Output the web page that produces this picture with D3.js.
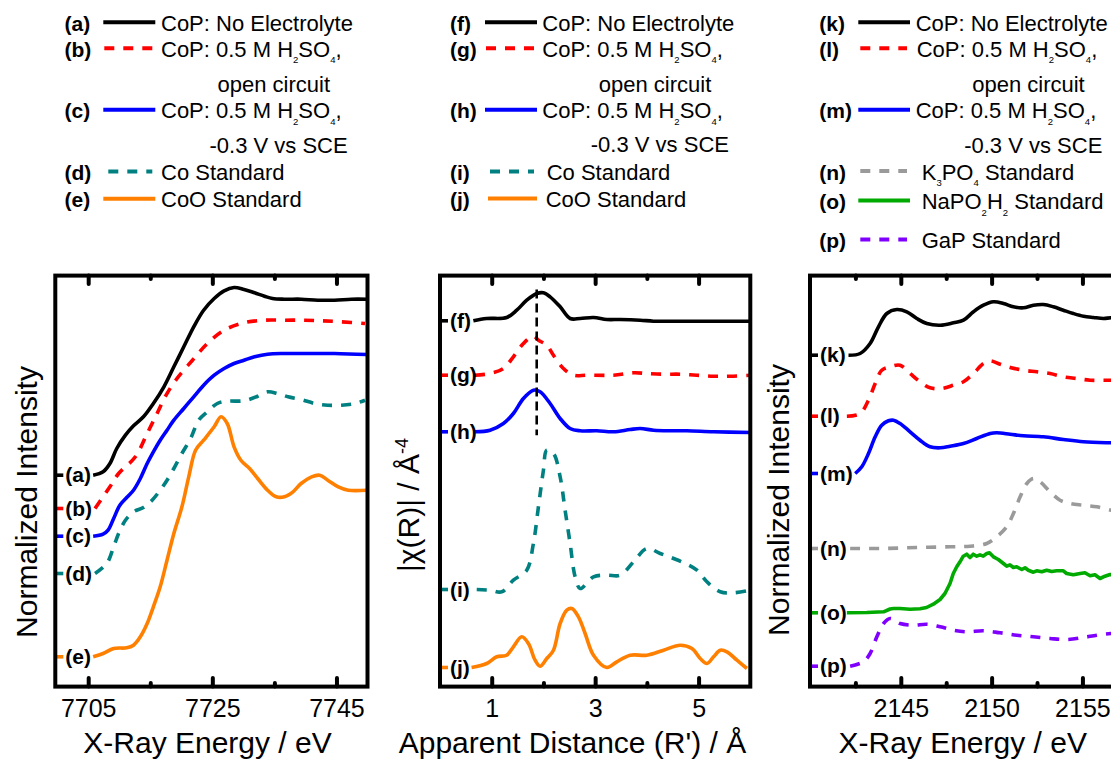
<!DOCTYPE html>
<html><head><meta charset="utf-8">
<script src="https://cdn.jsdelivr.net/npm/d3@7/dist/d3.min.js"></script>
<style>
html,body{margin:0;padding:0;background:#fff;}
svg{display:block;}
</style></head>
<body>
<svg id="chart" width="1111" height="761"></svg>
<script>
// ================= DATA =================
// Panel 1: Co K-edge XANES  [X-ray energy (eV), offset normalized intensity]
const coK_CoP_dry = [[7705.8,21.23],[7707.4,21.57],[7708.5,22.40],[7709.6,23.90],[7711.0,25.23],[7712.3,26.17],[7713.9,27.07],[7715.5,28.40],[7717.2,30.07],[7718.8,32.07],[7720.4,34.07],[7722.0,36.07],[7723.6,37.73],[7725.3,38.90],[7726.9,39.67],[7728.5,40.00],[7730.1,39.80],[7731.8,39.47],[7733.4,39.13],[7734.7,38.90],[7736.6,38.83],[7739.3,38.83],[7742.0,38.73],[7744.7,38.73],[7747.4,38.83],[7749.9,38.83]];
const coK_CoP_ocp = [[7706.1,17.90],[7708.5,20.07],[7709.9,21.40],[7712.6,23.07],[7714.5,25.40],[7716.1,27.40],[7717.4,29.07],[7719.1,30.73],[7721.8,32.73],[7724.2,34.40],[7726.9,35.73],[7730.1,36.47],[7733.4,36.73],[7736.6,36.73],[7739.9,36.73],[7742.6,36.67],[7745.8,36.57],[7749.6,36.40]];
const coK_CoP_neg03 = [[7705.8,15.13],[7707.4,15.33],[7708.2,15.73],[7709.1,16.90],[7710.1,18.23],[7711.2,19.00],[7712.3,19.73],[7713.4,20.90],[7714.5,22.40],[7715.5,23.57],[7716.6,24.73],[7717.7,25.73],[7718.8,26.73],[7720.4,27.90],[7722.0,29.07],[7723.6,30.23],[7725.3,31.23],[7726.9,31.90],[7728.5,32.40],[7730.1,32.73],[7731.8,33.07],[7733.9,33.33],[7736.6,33.40],[7739.3,33.40],[7744.7,33.40],[7749.9,33.30]];
const coK_Co = [[7706.1,11.40],[7708.0,12.40],[7709.1,14.07],[7709.9,15.40],[7711.0,16.73],[7712.3,17.57],[7713.9,18.00],[7715.3,18.73],[7716.6,19.73],[7717.7,20.73],[7718.8,21.90],[7720.1,23.40],[7721.5,24.90],[7722.8,26.73],[7724.2,27.57],[7725.8,28.40],[7727.4,28.63],[7730.1,28.67],[7732.3,29.13],[7733.9,29.57],[7735.5,29.40],[7737.2,29.07],[7739.3,28.80],[7741.5,28.40],[7743.6,28.23],[7745.8,28.23],[7748.0,28.40],[7749.6,28.73]];
const coK_CoO = [[7705.8,3.07],[7707.4,3.40],[7709.1,3.90],[7711.2,3.97],[7712.3,4.23],[7713.4,5.07],[7714.5,6.40],[7715.5,8.07],[7716.6,10.07],[7717.7,12.73],[7718.8,15.40],[7720.1,18.07],[7721.2,21.07],[7722.3,23.73],[7723.6,24.73],[7725.3,26.07],[7726.4,27.07],[7727.4,26.40],[7728.5,24.07],[7729.6,22.73],[7731.0,21.90],[7732.3,20.90],[7733.9,19.73],[7735.3,19.07],[7736.6,19.07],[7738.0,19.57],[7739.3,20.40],[7741.0,21.07],[7742.3,21.23],[7743.6,20.73],[7745.3,20.07],[7746.9,19.73],[7749.9,19.73]];

// Panel 2: Co EXAFS Fourier transform  [apparent distance R' (Å), offset |χ(R)|]
const exafs_CoP_dry = [[0.645,36.67],[0.903,36.90],[1.29,37.00],[1.484,37.73],[1.677,38.73],[1.871,39.40],[2.0,39.47],[2.129,39.07],[2.323,38.07],[2.516,36.90],[2.71,36.90],[2.968,37.00],[3.226,36.80],[3.484,36.80],[3.871,36.73],[4.129,36.63],[4.645,36.63],[5.29,36.63],[6.0,36.63]];
const exafs_CoP_ocp = [[0.677,31.23],[0.968,31.40],[1.226,31.90],[1.419,33.07],[1.613,34.40],[1.806,35.13],[1.903,34.73],[2.065,34.23],[2.194,33.23],[2.387,31.90],[2.581,31.23],[2.839,31.23],[3.355,31.23],[3.742,31.47],[4.0,31.40],[4.323,31.33],[4.645,31.33],[4.968,31.23],[5.29,31.13],[5.613,31.13],[6.0,31.23]];
const exafs_CoP_neg03 = [[0.677,25.57],[0.968,25.73],[1.226,26.40],[1.419,27.40],[1.613,28.90],[1.806,29.73],[1.935,29.57],[2.129,28.40],[2.323,26.90],[2.516,25.90],[2.71,25.67],[3.032,25.67],[3.355,25.57],[3.677,25.80],[3.871,25.90],[4.129,25.73],[4.452,25.67],[4.774,25.67],[5.29,25.57],[6.0,25.50]];
const exafs_Co = [[0.71,9.80],[0.968,9.73],[1.194,9.57],[1.419,10.73],[1.677,11.73],[1.806,14.40],[1.903,18.07],[2.0,21.73],[2.065,23.73],[2.194,23.40],[2.323,21.07],[2.419,17.73],[2.516,14.40],[2.613,11.07],[2.71,9.90],[2.968,11.07],[3.226,11.23],[3.484,11.23],[3.742,12.57],[4.0,13.90],[4.258,13.40],[4.516,12.90],[4.774,12.33],[4.968,11.73],[5.161,10.57],[5.419,9.57],[5.677,9.47],[6.0,9.73]];
const exafs_CoO = [[0.61,2.00],[0.903,2.40],[1.097,3.07],[1.29,3.23],[1.419,4.07],[1.581,5.07],[1.71,4.40],[1.839,2.73],[1.935,2.13],[2.065,2.90],[2.194,3.73],[2.323,6.40],[2.452,7.73],[2.548,7.90],[2.677,7.07],[2.806,5.40],[2.968,3.23],[3.226,2.00],[3.419,2.57],[3.677,3.23],[4.0,3.23],[4.323,3.73],[4.645,4.23],[4.871,3.90],[5.032,2.90],[5.161,2.40],[5.29,3.07],[5.419,3.73],[5.548,3.57],[5.742,2.73],[5.935,1.90]];
const exafsMarkerR = 1.87;             // dashed reference line position
const exafsMarkerSpan = [25.23, 39.8]; // its vertical extent

// Panel 3: P K-edge XANES  [X-ray energy (eV), offset normalized intensity]
const pK_CoP_dry = [[2142.12,33.23],[2142.76,33.40],[2143.31,34.40],[2143.77,36.07],[2144.23,37.40],[2144.78,37.80],[2145.33,37.57],[2145.88,36.90],[2146.43,36.40],[2147.17,36.23],[2147.90,36.47],[2148.45,36.73],[2149.00,37.57],[2149.55,38.23],[2150.10,38.57],[2150.65,38.40],[2151.20,38.07],[2151.75,37.97],[2152.30,38.23],[2152.85,38.30],[2153.40,38.07],[2153.95,37.73],[2154.50,37.40],[2155.06,37.13],[2155.61,37.00],[2156.16,36.90],[2156.58,36.97],[2157.19,36.95]];
const pK_CoP_ocp = [[2142.03,27.13],[2142.76,27.40],[2143.22,28.73],[2143.59,30.40],[2143.95,31.73],[2144.41,32.07],[2144.96,32.23],[2145.51,31.40],[2146.06,30.57],[2146.61,29.97],[2147.26,29.90],[2147.90,30.23],[2148.45,30.57],[2149.00,31.40],[2149.55,32.40],[2149.92,32.67],[2150.47,32.33],[2151.02,32.00],[2151.75,31.73],[2152.49,31.57],[2153.22,31.40],[2153.95,31.07],[2154.69,30.90],[2155.42,30.73],[2156.16,30.73],[2157.19,30.73]];
const pK_CoP_neg03 = [[2142.49,21.40],[2142.85,22.07],[2143.22,23.40],[2143.59,25.07],[2143.95,26.23],[2144.32,26.67],[2144.60,26.73],[2144.96,26.40],[2145.51,25.57],[2146.06,24.73],[2146.61,24.07],[2147.17,23.97],[2147.72,24.13],[2148.45,24.40],[2149.18,24.90],[2149.92,25.40],[2150.28,25.47],[2151.02,25.33],[2151.75,25.17],[2152.85,25.07],[2153.95,24.80],[2155.06,24.57],[2156.58,24.47],[2157.19,24.45]];
const pK_K3PO4 = [[2142.21,13.90],[2144.05,13.90],[2145.88,14.00],[2147.72,14.07],[2148.82,14.13],[2149.73,14.40],[2150.28,15.07],[2150.83,16.07],[2151.20,17.40],[2151.57,19.07],[2151.94,20.40],[2152.30,20.90],[2152.67,20.57],[2153.22,19.57],[2153.77,18.73],[2154.32,18.40],[2155.06,18.23],[2155.79,18.07],[2156.58,17.73],[2157.19,17.60]];
const pK_NaPO2H2 = [[2142.03,7.47],[2143.13,7.50],[2144.05,7.57],[2144.41,7.85],[2144.60,7.90],[2144.96,7.90],[2145.51,7.83],[2146.06,7.87],[2146.42,8.00],[2146.79,8.33],[2147.16,8.80],[2147.43,9.40],[2147.71,10.40],[2147.89,11.40],[2148.08,12.07],[2148.26,12.57],[2148.44,13.13],[2148.63,13.33],[2148.81,13.00],[2148.99,13.33],[2149.18,13.13],[2149.36,13.27],[2149.54,13.13],[2149.73,13.40],[2149.88,13.47],[2150.10,13.07],[2150.37,12.80],[2150.65,12.40],[2150.83,12.13],[2151.01,12.27],[2151.20,12.00],[2151.38,12.07],[2151.66,11.80],[2151.84,11.97],[2152.02,11.73],[2152.30,11.53],[2152.48,11.67],[2152.76,11.57],[2153.03,11.73],[2153.31,11.60],[2153.58,11.67],[2153.95,11.67],[2154.13,11.40],[2154.50,11.27],[2154.87,11.40],[2155.14,11.47],[2155.42,11.17],[2155.69,11.27],[2155.97,10.90],[2156.24,11.13],[2156.52,11.30],[2157.19,11.20]];
const pK_GaP = [[2142.21,2.13],[2142.94,2.57],[2143.31,3.40],[2143.68,5.07],[2144.05,6.40],[2144.41,6.90],[2144.96,6.40],[2145.70,6.23],[2146.43,6.33],[2147.17,6.07],[2147.90,5.73],[2148.63,5.57],[2149.55,5.67],[2150.47,5.47],[2151.39,5.23],[2152.30,5.07],[2153.22,4.90],[2154.14,4.80],[2155.06,5.00],[2155.79,5.23],[2156.58,5.40],[2157.19,5.50]];

// Axis ticks and labels
const coKMajorTicks = [7705, 7725, 7745];
const coKMinorTicks = [7715, 7735];
const exafsMajorTicks = [1, 3, 5];
const exafsMinorTicks = [2, 4];
const pKMajorTicks = [2145, 2150, 2155];
const pKMinorTicks = [2142.5, 2147.5, 2152.5];

// Series tags & legend names ("_x" = subscript, "|" = continuation line)
const coKTags = ["(a)", "(b)", "(c)", "(d)", "(e)"];
const exafsTags = ["(f)", "(g)", "(h)", "(i)", "(j)"];
const pKTags = ["(k)", "(l)", "(m)", "(n)", "(o)", "(p)"];
const coNames = ["CoP: No Electrolyte", "CoP: 0.5 M H_2SO_4,|open circuit", "CoP: 0.5 M H_2SO_4,|-0.3 V vs SCE", "Co Standard", "CoO Standard"];
const pNames = ["CoP: No Electrolyte", "CoP: 0.5 M H_2SO_4,|open circuit", "CoP: 0.5 M H_2SO_4,|-0.3 V vs SCE", "K_3PO_4 Standard", "NaPO_2H_2 Standard", "GaP Standard"];

// ================= STYLE / LAYOUT =================
const FONT = '"Liberation Sans", Arial, Helvetica, sans-serif';
const C = {black:"#000000", red:"#ff0000", blue:"#0000ff", teal:"#008080", orange:"#ff8000", grey:"#9a9a9a", green:"#00aa00", purple:"#8000ff"};
const coStyles = [{c:C.black,d:false},{c:C.red,d:true},{c:C.blue,d:false},{c:C.teal,d:true},{c:C.orange,d:false}];
const pStyles = [{c:C.black,d:false},{c:C.red,d:true},{c:C.blue,d:false},{c:C.grey,d:true},{c:C.green,d:false,lin:true},{c:C.purple,d:true}];

const frameTop = 275.6, frameBottom = 686.6;
const yScale = d3.scaleLinear().domain([0, 41.2]).range([687.5, 275.5]);
const DASH = "10,9";

const panels = [
  { xDomain:[7699.7, 7750.0], xRange:[55.3, 367.5], major:coKMajorTicks, minor:coKMinorTicks,
    series:[coK_CoP_dry, coK_CoP_ocp, coK_CoP_neg03, coK_Co, coK_CoO], styles:coStyles, tags:coKTags, names:coNames,
    xTitle:"X-Ray Energy / eV", xTitleX:207.5, yTitle:["Normalized Intensity"], yTitlePos:[36.5, 502],
    leg:{tagX:64.5, x0:103.3, x1:155.3, textX:161, rowDx:[0,0,0,0,0], dashDx:[0,1,0,5,0]},
    rows:[30.7, 56.7, 118.3, 180, 207.3], cont:[91.7, 152.7] },
  { xDomain:[0, 6], xRange:[440, 750.3], major:exafsMajorTicks, minor:exafsMinorTicks,
    series:[exafs_CoP_dry, exafs_CoP_ocp, exafs_CoP_neg03, exafs_Co, exafs_CoO], styles:coStyles, tags:exafsTags, names:coNames,
    xTitle:"Apparent Distance (R') / Å", xTitleX:572.5, yTitle:["|χ(R)| / Å", "-4"], yTitlePos:[419, 505],
    leg:{tagX:450, x0:485, x1:537, textX:542.3, rowDx:[0,0,0,4.4,3.4], dashDx:[0,1,0,5,3]},
    rows:[30.7, 56.7, 118.3, 180, 207], cont:[91.7, 152.2], marker:true },
  { xDomain:[2140, 2157.19], xRange:[810, 1122.2], major:pKMajorTicks, minor:pKMinorTicks,
    series:[pK_CoP_dry, pK_CoP_ocp, pK_CoP_neg03, pK_K3PO4, pK_NaPO2H2, pK_GaP], styles:pStyles, tags:pKTags, names:pNames,
    xTitle:"X-Ray Energy / eV", xTitleX:962.7, yTitle:["Normalized Intensity"], yTitlePos:[789, 500],
    leg:{tagX:819.3, x0:858.3, x1:910, textX:915.7, rowDx:[0,1,0,6,6,6], dashDx:[0,2,0,2,0,2]},
    rows:[30.7, 56.7, 118.3, 179.5, 209, 248], cont:[91.7, 152.7] }
];

const svg = d3.select("#chart");
svg.append("rect").attr("width",1111).attr("height",761).attr("fill","#fff");
const defs = svg.append("defs");

function richText(sel, str, subSize, subDy) {
  const parts = []; let buf = "", i = 0;
  while (i < str.length) {
    if (str[i] === "_") { if (buf) parts.push({t:buf, s:false}); buf = ""; parts.push({t:str[i+1], s:true}); i += 2; }
    else { buf += str[i]; i++; }
  }
  if (buf) parts.push({t:buf, s:false});
  let down = false;
  parts.forEach(p => {
    const ts = sel.append("tspan").text(p.t);
    if (p.s) { ts.attr("font-size", subSize); if (!down) ts.attr("dy", subDy); down = true; }
    else if (down) { ts.attr("dy", -subDy); down = false; }
  });
}

panels.forEach((P, pi) => {
  const g = svg.append("g");
  const x = d3.scaleLinear().domain(P.xDomain).range(P.xRange);
  const [xl, xr] = P.xRange;

  defs.append("clipPath").attr("id", "clip" + pi).append("rect")
    .attr("x", xl).attr("y", frameTop).attr("width", xr - xl).attr("height", frameBottom - frameTop);

  // --- curves ---
  const plot = g.append("g").attr("clip-path", `url(#clip${pi})`);
  P.series.forEach((data, si) => {
    const st = P.styles[si];
    const gen = d3.line().x(d => x(d[0])).y(d => yScale(d[1]))
      .curve(st.lin ? d3.curveLinear : d3.curveCatmullRom.alpha(0.5));
    plot.append("path").attr("d", gen(data)).attr("fill", "none")
      .attr("stroke", st.c).attr("stroke-width", 3.6)
      .attr("stroke-linejoin", "round")
      .attr("stroke-dasharray", st.d ? DASH : null);
  });

  if (P.marker) {
    plot.append("line").attr("x1", x(exafsMarkerR)).attr("x2", x(exafsMarkerR))
      .attr("y1", yScale(exafsMarkerSpan[1])).attr("y2", yScale(exafsMarkerSpan[0]))
      .attr("stroke", "#000").attr("stroke-width", 2.6).attr("stroke-dasharray", "9,5");
  }

  // --- series tags inside plot with colored stubs ---
  P.series.forEach((data, si) => {
    const st = P.styles[si];
    const yy = yScale(data[0][1]);
    g.append("line").attr("x1", xl).attr("x2", xl + 8).attr("y1", yy).attr("y2", yy)
      .attr("stroke", st.c).attr("stroke-width", 3.6);
    g.append("text").attr("x", xl + 10).attr("y", yy + 7)
      .attr("font-family", FONT).attr("font-weight", "bold").attr("font-size", 21)
      .attr("fill", "#000").text(P.tags[si]);
  });

  // --- frame ---
  g.append("rect").attr("x", xl).attr("y", frameTop).attr("width", xr - xl).attr("height", frameBottom - frameTop)
    .attr("fill", "none").attr("stroke", "#000").attr("stroke-width", 4);

  // --- ticks via d3 axes ---
  function ticks(axisFn, yPos, values, len, withLabels) {
    const ax = axisFn(x).tickValues(values).tickSizeInner(-len).tickSizeOuter(0)
      .tickFormat(withLabels ? d3.format("d") : () => "");
    const ga = g.append("g").attr("transform", `translate(0,${yPos})`).call(ax);
    ga.select(".domain").remove();
    ga.selectAll(".tick line").attr("stroke", "#000").attr("stroke-width", 4).attr("stroke-linecap", "round");
    ga.selectAll(".tick text").attr("font-family", FONT).attr("font-size", 25).attr("fill", "#000")
      .attr("y", 717 - yPos).attr("dy", 0);
    if (!withLabels) ga.selectAll(".tick text").remove();
    ga.attr("font-family", FONT);
  }
  ticks(d3.axisBottom, frameBottom, P.major, 8.5, true);
  ticks(d3.axisBottom, frameBottom, P.minor, 3.5, false);
  ticks(d3.axisTop, frameTop, P.major, 8.5, false);
  ticks(d3.axisTop, frameTop, P.minor, 3.5, false);

  // --- axis titles ---
  g.append("text").attr("x", P.xTitleX).attr("y", 752.5).attr("text-anchor", "middle")
    .attr("font-family", FONT).attr("font-size", 30).attr("fill", "#000").text(P.xTitle);
  const yt = g.append("text").attr("transform", `translate(${P.yTitlePos[0]},${P.yTitlePos[1]}) rotate(-90)`)
    .attr("text-anchor", "middle").attr("font-family", FONT).attr("font-size", 30).attr("fill", "#000");
  yt.append("tspan").text(P.yTitle[0]);
  if (P.yTitle[1]) yt.append("tspan").attr("font-size", 18).attr("dy", -11).text(P.yTitle[1]);

  // --- legend ---
  let ci = 0;
  P.names.forEach((nm, si) => {
    const st = P.styles[si];
    const base = P.rows[si];
    const ly = base - 8.5;
    g.append("text").attr("x", P.leg.tagX).attr("y", base)
      .attr("font-family", FONT).attr("font-weight", "bold").attr("font-size", 21).attr("fill", "#000")
      .text(P.tags[si]);
    g.append("line").attr("x1", P.leg.x0 + P.leg.dashDx[si]).attr("x2", st.d ? P.leg.x1 - 3 : P.leg.x1)
      .attr("y1", ly).attr("y2", ly).attr("stroke", st.c).attr("stroke-width", 4)
      .attr("stroke-dasharray", st.d ? DASH : null);
    const lines = nm.split("|");
    const t = g.append("text").attr("x", P.leg.textX + P.leg.rowDx[si]).attr("y", base)
      .attr("font-family", FONT).attr("font-size", 22).attr("fill", "#000");
    richText(t, lines[0], 9.5, 6.5);
    if (lines[1]) {
      const off = lines[1].startsWith("open") ? 56.5 : 48.5;
      g.append("text").attr("x", P.leg.textX + off).attr("y", P.cont[ci])
        .attr("font-family", FONT).attr("font-size", 22).attr("fill", "#000").text(lines[1]);
      ci++;
    }
  });
});
</script>
</body></html>
